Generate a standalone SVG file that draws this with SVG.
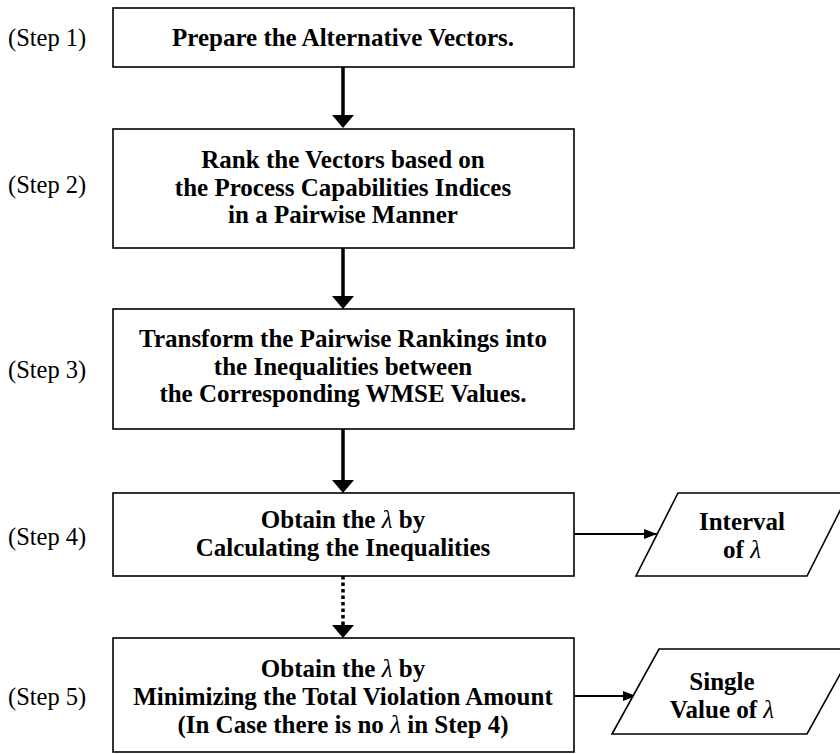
<svg xmlns="http://www.w3.org/2000/svg" width="840" height="754" viewBox="0 0 840 754">
<style>
.box{fill:#fff;stroke:#000;stroke-width:1.6}
.t{font-family:"Liberation Serif","Times New Roman",serif;font-size:25px;font-weight:bold;text-anchor:middle;fill:#000}
.s{font-family:"Liberation Serif","Times New Roman",serif;font-size:24.5px;fill:#000}
.l{font-style:italic;font-weight:normal}
.main{stroke:#000;stroke-width:3.5;fill:none}
.side{stroke:#000;stroke-width:2;fill:none}
</style>
<defs>
<marker id="small" markerUnits="userSpaceOnUse" markerWidth="13" markerHeight="10" refX="13" refY="5" orient="auto" viewBox="0 0 13 10">
<path d="M0,0 L13,5 L0,10 Z" fill="#000"/>
</marker>
</defs>
<g id="labels">
<text class="s" x="8" y="46">(Step 1)</text>
<text class="s" x="8" y="193">(Step 2)</text>
<text class="s" x="8" y="378">(Step 3)</text>
<text class="s" x="8" y="545">(Step 4)</text>
<text class="s" x="8" y="705">(Step 5)</text>
</g>
<g id="connectors">
<line class="main" x1="343" y1="67" x2="343" y2="116"/>
<line class="main" x1="343" y1="248" x2="343" y2="297"/>
<line class="main" x1="343" y1="429" x2="343" y2="481"/>
<line class="main" x1="343" y1="576" x2="343" y2="625" stroke-dasharray="3.5,3"/>
<path d="M332,115 L354,115 L343,128 Z" fill="#000"/>
<path d="M332,296 L354,296 L343,309 Z" fill="#000"/>
<path d="M332,480 L354,480 L343,493 Z" fill="#000"/>
<path d="M332,625 L354,625 L343,638 Z" fill="#000"/>
<line class="side" x1="574" y1="534" x2="657" y2="534" marker-end="url(#small)"/>
<line class="side" x1="574" y1="696" x2="636" y2="696" marker-end="url(#small)"/>
</g>
<g id="step1">
<rect class="box" x="113" y="8" width="461" height="59"/>
<text class="t" x="343" y="46">Prepare the Alternative Vectors.</text>
</g>
<g id="step2">
<rect class="box" x="113" y="129" width="461" height="119"/>
<text class="t" x="343" y="168">Rank the Vectors based on</text>
<text class="t" x="343" y="196">the Process Capabilities Indices</text>
<text class="t" x="343" y="223">in a Pairwise Manner</text>
</g>
<g id="step3">
<rect class="box" x="113" y="309" width="461" height="120"/>
<text class="t" x="343" y="347">Transform the Pairwise Rankings into</text>
<text class="t" x="343" y="375">the Inequalities between</text>
<text class="t" x="343" y="402">the Corresponding WMSE Values.</text>
</g>
<g id="step4">
<rect class="box" x="113" y="493" width="461" height="83"/>
<text class="t" x="343" y="528">Obtain the <tspan class="l">λ</tspan> by</text>
<text class="t" x="343" y="556">Calculating the Inequalities</text>
</g>
<g id="step5">
<rect class="box" x="113" y="638" width="461" height="114"/>
<text class="t" x="343" y="677">Obtain the <tspan class="l">λ</tspan> by</text>
<text class="t" x="343" y="705">Minimizing the Total Violation Amount</text>
<text class="t" x="343" y="733">(In Case there is no <tspan class="l">λ</tspan> in Step 4)</text>
</g>
<g id="interval">
<path class="box" d="M678,493 L849,493 L807,576 L636,576 Z"/>
<text class="t" x="742" y="530">Interval</text>
<text class="t" x="742" y="558">of <tspan class="l">λ</tspan></text>
</g>
<g id="single">
<path class="box" d="M659,649 L854,649 L807,734 L612,734 Z"/>
<text class="t" x="722" y="690">Single</text>
<text class="t" x="722" y="718">Value of <tspan class="l">λ</tspan></text>
</g>
</svg>
